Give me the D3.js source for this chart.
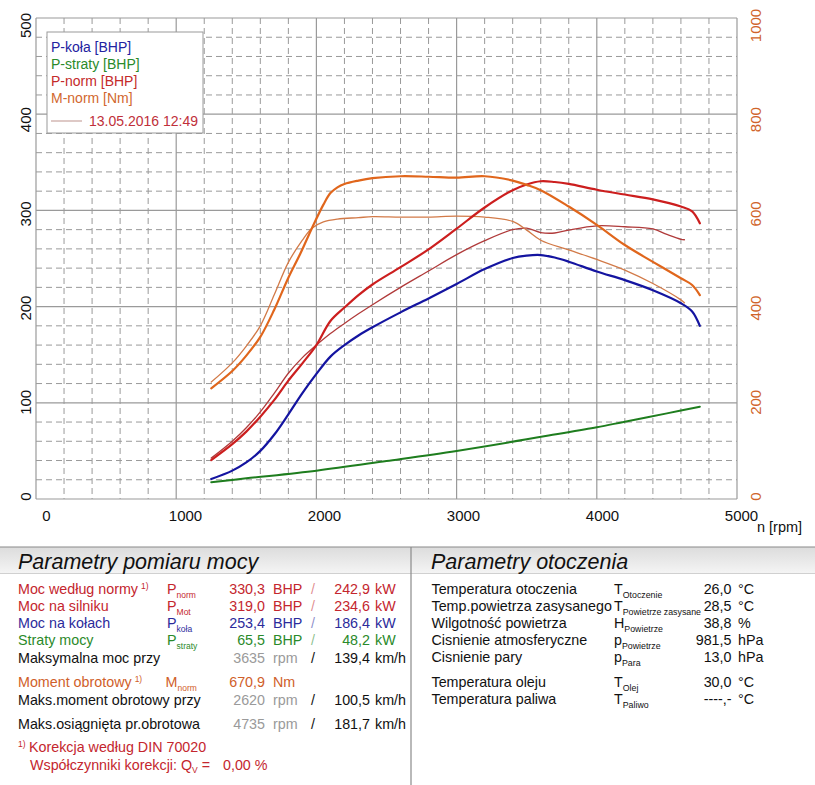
<!DOCTYPE html>
<html><head><meta charset="utf-8">
<script src="https://cdn.jsdelivr.net/npm/d3@7"></script>
<style>
body{margin:0;background:#fff;}
svg{display:block;font-family:"Liberation Sans",Arial,Helvetica,sans-serif;}
</style></head><body>
<svg id="c" width="815" height="785"></svg>
<script>
// ---------- tick labels ----------
const xTicks = [0, 1000, 2000, 3000, 4000, 5000];
const yTicks = [0, 100, 200, 300, 400, 500];
const yRTicks = [0, 200, 400, 600, 800, 1000];

// ---------- series ----------
const rpmKola = [1250,1400,1500,1600,1700,1800,1900,2000,2100,2200,2300,2400,2600,2800,3000,3200,3400,3500,3600,3700,3800,4000,4200,4400,4600,4680,4735];
const pKola   = [20.8,29.5,38,50,67,88,110,130,148,160,170,178.5,194,208.5,223.5,239,250.5,253,253.6,251,246.7,236.5,227.5,217,203.5,195,180];

const rpmStraty = [1250,1500,2000,2500,3000,3500,3635,4000,4200,4500,4735];
const pStraty   = [17.4,21.5,29.4,39.5,50,62,65.5,74.5,80.4,89,96];

const rpmNorm = [1250,1400,1500,1600,1700,1800,1900,2000,2100,2200,2300,2400,2600,2800,3000,3200,3400,3500,3600,3700,3800,4000,4200,4400,4600,4680,4735];
const pNorm   = [40.5,57,70,85.6,103,123,141,160,185,199,212,223,241,259.5,281,303,321,327,330.3,329.5,327.5,321.5,316.5,311.5,304,299,286.6];

const rpmNorm2 = [1250,1400,1500,1600,1700,1800,1900,2000,2100,2200,2300,2400,2600,2800,3000,3200,3400,3500,3600,3700,3800,4000,4200,4400,4500,4600,4625];
const pNorm2   = [42.5,60,74,90.5,110,130.7,147,160,172,182.5,192.5,202,220,237,254,268.5,280,281.5,277,276.5,279.6,284,283,280.7,275,270,269.5];

const rpmMnorm = [1250,1400,1500,1600,1700,1800,1885,1968,2050,2100,2150,2200,2300,2400,2600,2800,3000,3200,3400,3500,3600,3800,4000,4200,4400,4600,4680,4735];
const mNorm    = [230,266,298,337,394,460,510,563,612,636,648,655,662,667,671,670,668,671,662,653,642,608,570,528,493,459,445,424];

const rpmMnorm2 = [1250,1400,1500,1600,1700,1800,1900,1968,2050,2150,2300,2400,2600,2800,3000,3200,3400,3500,3600,3800,4000,4200,4400,4600,4625];
const mNorm2    = [243,283,318,360,425,492,538,563,576,582,585,587,586,586,588,586,577,559,538,518,498,476,448,414,408];

// legend
const legendItems = ["P-koła [BHP]", "P-straty [BHP]", "P-norm [BHP]", "M-norm [Nm]"];
const legendDate = "13.05.2016 12:49";

// ---------- tables ----------
const leftTitle = "Parametry pomiaru mocy";
const rightTitle = "Parametry otoczenia";
const leftLabels = ["Moc według normy","Moc na silniku","Moc na kołach","Straty mocy","Maksymalna moc przy","Moment obrotowy","Maks.moment obrotowy przy","Maks.osiągnięta pr.obrotowa"];
const leftSup    = ["1)","","","","","1)","",""];
const leftSym    = ["P","P","P","P","","M","",""];
const leftSub    = ["norm","Mot","koła","straty","","norm","",""];
const leftVal1   = ["330,3","319,0","253,4","65,5","3635","670,9","2620","4735"];
const leftUnit1  = ["BHP","BHP","BHP","BHP","rpm","Nm","rpm","rpm"];
const leftVal2   = ["242,9","234,6","186,4","48,2","139,4","","100,5","181,7"];
const leftUnit2  = ["kW","kW","kW","kW","km/h","","km/h","km/h"];
const footLine1 = "Korekcja według DIN 70020";
const footLine2 = "Współczynniki korekcji: Q";
const footQ = "0,00 %";

const rightLabels = ["Temperatura otoczenia","Temp.powietrza zasysanego","Wilgotność powietrza","Cisnienie atmosferyczne","Cisnienie pary","Temperatura oleju","Temperatura paliwa"];
const rightSym  = ["T","T","H","p","p","T","T"];
const rightSub  = ["Otoczenie","Powietrze zasysane","Powietrze","Powietrze","Para","Olej","Paliwo"];
const rightVal  = ["26,0","28,5","38,8","981,5","13,0","30,0","----,-"];
const rightUnit = ["°C","°C","%","hPa","hPa","°C","°C"];

// ---------- drawing ----------
const svg = d3.select("#c");
const L = 36, R = 737, T = 18, B = 499;
const x = d3.scaleLinear().domain([0, 5000]).range([L, R]);
const y = d3.scaleLinear().domain([0, 500]).range([B, T]);
const yR = d3.scaleLinear().domain([0, 1000]).range([B, T]);
const xLab = d3.scaleLinear().domain([0, 5000]).range([46, 741]);
const yLab = d3.scaleLinear().domain([0, 500]).range([496, 25]);
const yRLab = d3.scaleLinear().domain([0, 1000]).range([496, 25]);

const grid = svg.append("g");
d3.range(0, 5001, 200).filter(v => v % 1000 !== 0).forEach(v => {
  grid.append("line").attr("x1", x(v)).attr("x2", x(v)).attr("y1", T).attr("y2", B)
    .attr("stroke", "#9a9a9a").attr("stroke-width", 1).attr("stroke-dasharray", "6,4");
});
d3.range(0, 501, 20).filter(v => v % 100 !== 0).forEach(v => {
  grid.append("line").attr("x1", L).attr("x2", R).attr("y1", y(v)).attr("y2", y(v))
    .attr("stroke", "#9a9a9a").attr("stroke-width", 1).attr("stroke-dasharray", "6,4");
});
xTicks.forEach(v => {
  grid.append("line").attr("x1", x(v)).attr("x2", x(v)).attr("y1", T).attr("y2", B)
    .attr("stroke", "#9a9a9a").attr("stroke-width", 1.2);
});
yTicks.forEach(v => {
  grid.append("line").attr("x1", L).attr("x2", R).attr("y1", y(v)).attr("y2", y(v))
    .attr("stroke", "#9a9a9a").attr("stroke-width", 1.2);
});

const fontF = '"Liberation Sans",Arial,Helvetica,sans-serif';
const TFS = 15;
const gx = svg.append("g").attr("transform", `translate(0,521)`)
  .call(d3.axisBottom(xLab).tickValues(xTicks).tickSize(0).tickFormat(d3.format("d")));
gx.attr("font-family", fontF).attr("font-size", TFS);
gx.select(".domain").remove();
gx.selectAll("text").attr("y", 0).attr("dy", 0).attr("fill", "#111");

const gl = svg.append("g").attr("transform", `translate(31,0)`)
  .call(d3.axisLeft(yLab).tickValues(yTicks).tickSize(0).tickFormat(d3.format("d")));
gl.attr("font-family", fontF).attr("font-size", TFS);
gl.select(".domain").remove();
gl.selectAll("text").attr("x", 0).attr("dy", 0).attr("text-anchor", "middle")
  .attr("transform", "rotate(-90)").attr("fill", "#111");

const gr = svg.append("g").attr("transform", `translate(761,0)`)
  .call(d3.axisRight(yRLab).tickValues(yRTicks).tickSize(0).tickFormat(d3.format("d")));
gr.attr("font-family", fontF).attr("font-size", TFS);
gr.select(".domain").remove();
gr.selectAll("text").attr("x", 0).attr("dy", 0).attr("text-anchor", "middle")
  .attr("transform", "rotate(-90)").attr("fill", "#d0642a");

svg.append("text").attr("x", 757).attr("y", 532).attr("font-size", 14.5).attr("fill", "#111").text("n [rpm]");

// curves
const series = [
  {r: rpmStraty, v: pStraty, s: y, color: "#1e7d1e", w: 2},
  {r: rpmNorm2, v: pNorm2, s: y, color: "#b03a3a", w: 1.3},
  {r: rpmMnorm2, v: mNorm2, s: yR, color: "#d27a48", w: 1.3},
  {r: rpmKola, v: pKola, s: y, color: "#1414a0", w: 2.2},
  {r: rpmNorm, v: pNorm, s: y, color: "#cc1e1e", w: 2.2},
  {r: rpmMnorm, v: mNorm, s: yR, color: "#e0661c", w: 2.2},
];
series.forEach(sr => {
  const pts = sr.r.map((d, i) => [d, sr.v[i]]);
  const line = d3.line().x(d => x(d[0])).y(d => sr.s(d[1])).curve(d3.curveCatmullRom.alpha(0.5));
  svg.append("path").attr("d", line(pts)).attr("fill", "none")
    .attr("stroke", sr.color).attr("stroke-width", sr.w).attr("stroke-linejoin", "round").attr("stroke-linecap", "round");
});

// legend
const lg = svg.append("g");
lg.append("rect").attr("x", 47).attr("y", 32).attr("width", 156).attr("height", 101)
  .attr("fill", "#fff").attr("stroke", "#9a9a9a").attr("stroke-width", 1);
const legColors = ["#2323a0", "#2a8a2a", "#c42a2a", "#d2672e"];
const legY = [51.5, 68.5, 86, 103];
legendItems.forEach((t, i) => {
  lg.append("text").attr("x", 51).attr("y", legY[i]).attr("font-size", 14).attr("fill", legColors[i]).text(t);
});
lg.append("line").attr("x1", 51).attr("x2", 82).attr("y1", 121).attr("y2", 121).attr("stroke", "#c8a4a0").attr("stroke-width", 1.2);
lg.append("text").attr("x", 89).attr("y", 126).attr("font-size", 14).attr("fill", "#c0303a").text(legendDate);

// ---------- bottom panels ----------
const defs = svg.append("defs");
const grad = defs.append("linearGradient").attr("id", "hg").attr("x1", 0).attr("x2", 0).attr("y1", 0).attr("y2", 1);
grad.append("stop").attr("offset", "0%").attr("stop-color", "#dcdcdc");
grad.append("stop").attr("offset", "100%").attr("stop-color", "#f4f4f4");
svg.append("rect").attr("x", 0).attr("y", 547).attr("width", 815).attr("height", 26).attr("fill", "url(#hg)");
svg.append("line").attr("x1", 0).attr("x2", 815).attr("y1", 547).attr("y2", 547).attr("stroke", "#8a8a8a").attr("stroke-width", 1.2);
svg.append("line").attr("x1", 0).attr("x2", 815).attr("y1", 573.5).attr("y2", 573.5).attr("stroke", "#d0d0d0").attr("stroke-width", 1);
svg.append("line").attr("x1", 411).attr("x2", 411).attr("y1", 547).attr("y2", 785).attr("stroke", "#8a8a8a").attr("stroke-width", 1.2);

svg.append("text").attr("x", 18).attr("y", 569).attr("font-size", 21.5).attr("font-style", "italic").attr("fill", "#111").text(leftTitle);
svg.append("text").attr("x", 431).attr("y", 569).attr("font-size", 21.5).attr("font-style", "italic").attr("fill", "#111").text(rightTitle);

const RED = "#c4262e", BLUE = "#2b2b9b", GREEN = "#2a8a2a", ORANGE = "#d0602a", BLACK = "#111", GRAY = "#9a9a9a";
const rowColor = [RED, RED, BLUE, GREEN, BLACK, ORANGE, BLACK, BLACK];
const rowY = [594, 611, 628, 645, 663, 687, 705, 729];
const FS = 14.3;
leftLabels.forEach((lab, i) => {
  const c = rowColor[i];
  const yy = rowY[i];
  const t = svg.append("text").attr("x", 18).attr("y", yy).attr("font-size", FS).attr("fill", c).text(lab);
  if (leftSup[i]) t.append("tspan").attr("dx", 3).attr("dy", -5).attr("font-size", 8.5).text(leftSup[i]);
  if (leftSym[i]) {
    const s = svg.append("text").attr("x", leftSym[i] === "M" ? 165.5 : 167).attr("y", yy).attr("font-size", FS).attr("fill", c).text(leftSym[i]);
    s.append("tspan").attr("dy", 3.5).attr("font-size", 8.5).text(leftSub[i]);
  }
  const isRpm = leftUnit1[i] === "rpm";
  const vc = isRpm ? GRAY : c;
  svg.append("text").attr("x", 265).attr("y", yy).attr("text-anchor", "end").attr("font-size", FS).attr("fill", vc).text(leftVal1[i]);
  svg.append("text").attr("x", 273).attr("y", yy).attr("font-size", FS).attr("fill", vc).text(leftUnit1[i]);
  if (leftVal2[i]) {
    svg.append("text").attr("x", 311).attr("y", yy).attr("font-size", FS).attr("fill", isRpm ? BLACK : c)
      .attr("fill-opacity", isRpm ? 1 : 0.55).text("/");
    svg.append("text").attr("x", 370).attr("y", yy).attr("text-anchor", "end").attr("font-size", FS).attr("fill", c).text(leftVal2[i]);
    svg.append("text").attr("x", 375).attr("y", yy).attr("font-size", FS).attr("fill", c).text(leftUnit2[i]);
  }
});
svg.append("text").attr("x", 18).attr("y", 747).attr("font-size", 8.5).attr("fill", RED).text("1)");
svg.append("text").attr("x", 29).attr("y", 752).attr("font-size", FS).attr("fill", RED).text(footLine1);
const f2 = svg.append("text").attr("x", 30).attr("y", 770).attr("font-size", FS).attr("fill", RED).text(footLine2);
f2.append("tspan").attr("dy", 3).attr("font-size", 8.5).text("V");
f2.append("tspan").attr("dy", -3).text(" =");
svg.append("text").attr("x", 223).attr("y", 770).attr("font-size", FS).attr("fill", RED).text(footQ);

const rRowY = [594, 611, 628, 645, 662, 687, 704];
rightLabels.forEach((lab, i) => {
  const yy = rRowY[i];
  svg.append("text").attr("x", 431.5).attr("y", yy).attr("font-size", FS).attr("fill", BLACK).text(lab);
  const s = svg.append("text").attr("x", 614).attr("y", yy).attr("font-size", FS).attr("fill", BLACK).text(rightSym[i]);
  s.append("tspan").attr("dy", 4).attr("font-size", 8.8).text(rightSub[i]);
  svg.append("text").attr("x", 731.5).attr("y", yy).attr("text-anchor", "end").attr("font-size", FS).attr("fill", BLACK).text(rightVal[i]);
  svg.append("text").attr("x", 738).attr("y", yy).attr("font-size", FS).attr("fill", BLACK).text(rightUnit[i]);
});
</script>
</body></html>
